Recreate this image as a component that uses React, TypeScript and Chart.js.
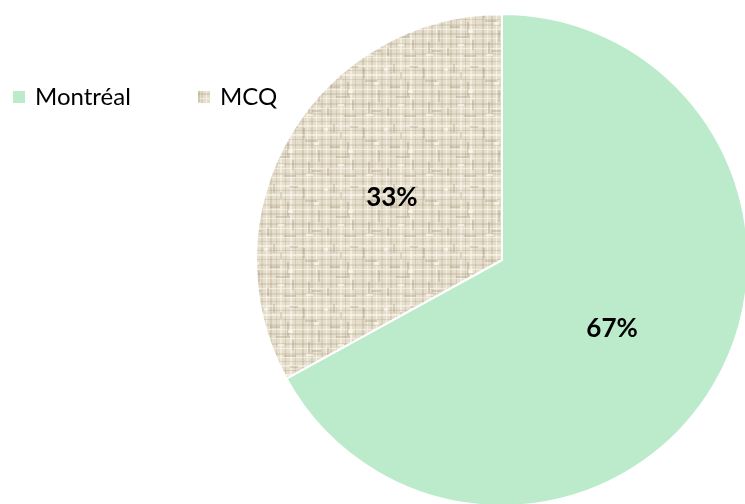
import React, { useEffect, useRef } from "react";
import { Chart, registerables } from "chart.js";

Chart.register(...registerables);

const categories = ["Montréal", "MCQ"];
const values = [67, 33];
const valueLabels = ["67%", "33%"];

function makeLinen(): CanvasPattern | string {
  const S = 60;
  const src = document.createElement("canvas");
  src.width = S;
  src.height = S;
  const g = src.getContext("2d");
  if (!g) return "#DCD2BE";
  g.fillStyle = "#E6DECC";
  g.fillRect(0, 0, S, S);
  const vThreads: number[][] = [
    [2, 2, 0.28, 1], [7, 1, 0.25, 0], [11, 2, 0.24, 1], [16, 1, 0.4, 0], [21, 2, 0.2, 1],
    [26, 1, 0.35, 0], [30, 2, 0.26, 1], [36, 1, 0.24, 1], [40, 2, 0.25, 0], [45, 1, 0.28, 1],
    [50, 2, 0.3, 0], [55, 1, 0.24, 1],
  ];
  const hThreads: number[][] = [
    [1, 1, 0.24, 1], [5, 2, 0.25, 0], [10, 1, 0.28, 1], [14, 2, 0.3, 0], [19, 1, 0.24, 1],
    [24, 2, 0.2, 1], [29, 1, 0.35, 0], [33, 2, 0.24, 1], [38, 1, 0.25, 0], [43, 2, 0.24, 1],
    [48, 1, 0.35, 0], [53, 2, 0.2, 1], [57, 1, 0.3, 0],
  ];
  vThreads.forEach(([x, w, a, d]) => {
    g.fillStyle = d ? `rgba(165,150,122,${a})` : `rgba(252,248,238,${a + 0.3})`;
    g.fillRect(x, 0, w, S);
  });
  hThreads.forEach(([y, h, a, d]) => {
    g.fillStyle = d ? `rgba(165,150,122,${a})` : `rgba(252,248,238,${a + 0.3})`;
    g.fillRect(0, y, S, h);
  });
  const segs: number[][] = [
    [3, 8, 2, 10], [18, 30, 2, 12], [33, 4, 2, 9], [47, 22, 2, 14], [8, 42, 2, 11],
    [27, 48, 2, 8], [52, 40, 2, 10], [40, 12, 2, 7],
    [5, 20, 12, 2], [30, 26, 10, 2], [44, 55, 12, 2], [12, 50, 9, 2], [36, 36, 14, 2], [50, 6, 8, 2],
  ];
  segs.forEach(([x, y, w, h]) => {
    g.fillStyle = "rgba(150,135,110,0.28)";
    g.fillRect(x, y, w, h);
  });
  const lights: number[][] = [
    [14, 22, 5, 3], [38, 44, 6, 2], [24, 8, 4, 3], [6, 54, 7, 2], [48, 30, 5, 3],
  ];
  lights.forEach(([x, y, w, h]) => {
    g.fillStyle = "rgba(255,252,244,0.6)";
    g.fillRect(x, y, w, h);
  });
  const c = document.createElement("canvas");
  c.width = S;
  c.height = S;
  const g2 = c.getContext("2d");
  if (!g2) return "#DCD2BE";
  g2.fillStyle = "#E6DECC";
  g2.fillRect(0, 0, S, S);
  g2.filter = "blur(0.7px)";
  for (let dx = -1; dx <= 1; dx++) {
    for (let dy = -1; dy <= 1; dy++) {
      g2.drawImage(src, dx * S, dy * S);
    }
  }
  const pat = g2.createPattern(c, "repeat");
  return pat || "#DCD2BE";
}

export default function App() {
  const ref = useRef<HTMLCanvasElement>(null);
  useEffect(() => {
    if (!ref.current) return;
    const linen = makeLinen();
    const colors: any[] = ["#BBEBCB", linen];

    const labelPlugin = {
      id: "sliceLabels",
      afterDatasetsDraw(chart: any) {
        const ctx = chart.ctx;
        const meta = chart.getDatasetMeta(0);
        ctx.save();
        ctx.font = "bold 26px Lato";
        ctx.fillStyle = "#000";
        ctx.textAlign = "center";
        ctx.textBaseline = "middle";
        meta.data.forEach((arc: any, i: number) => {
          const p = arc.getProps(["x", "y", "startAngle", "endAngle", "outerRadius"], true);
          const mid = (p.startAngle + p.endAngle) / 2;
          const r = p.outerRadius * 0.52;
          ctx.fillText(valueLabels[i], p.x + Math.cos(mid) * r, p.y + Math.sin(mid) * r + 3);
        });
        ctx.restore();
      },
    };

    const legendPlugin = {
      id: "customLegend",
      afterDraw(chart: any) {
        const ctx = chart.ctx;
        ctx.save();
        ctx.font = "24px Lato";
        ctx.textBaseline = "alphabetic";
        ctx.textAlign = "left";
        const xs = [13, 198];
        categories.forEach((name, i) => {
          ctx.fillStyle = colors[i];
          ctx.fillRect(xs[i], 91, 12, 12);
          ctx.fillStyle = "#000";
          ctx.fillText(name, xs[i] + 22, 105);
        });
        ctx.restore();
      },
    };

    const chart = new Chart(ref.current, {
      type: "pie",
      data: {
        labels: categories,
        datasets: [
          {
            data: values,
            backgroundColor: colors,
            borderColor: "#ffffff",
            borderWidth: 2,
          },
        ],
      },
      options: {
        animation: false,
        responsive: false,
        maintainAspectRatio: false,
        layout: { padding: { left: 255, right: 11, top: 13, bottom: 13 } },
        plugins: {
          legend: { display: false },
          tooltip: { enabled: false },
        },
      },
      plugins: [labelPlugin, legendPlugin],
    });
    return () => chart.destroy();
  }, []);

  return (
    <div style={{ position: "fixed", left: 0, top: 0, width: 745, height: 504, overflow: "hidden", background: "#fff" }}>
      <canvas ref={ref} width={760} height={520} style={{ width: 760, height: 520, display: "block" }} />
    </div>
  );
}
